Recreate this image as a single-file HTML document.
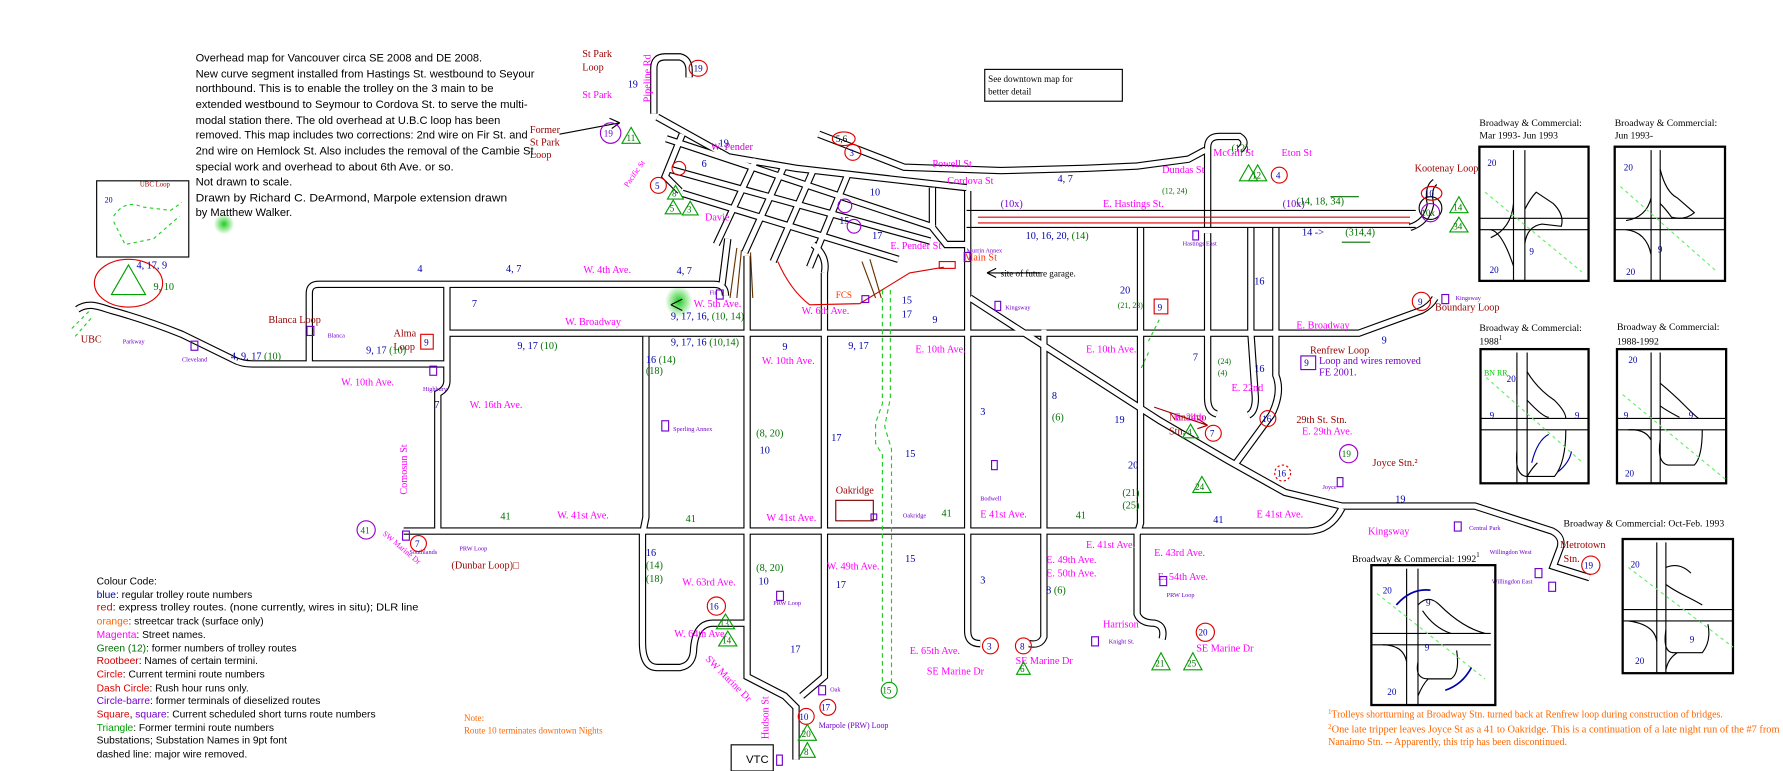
<!DOCTYPE html>
<html><head><meta charset="utf-8"><style>
html,body{margin:0;padding:0;background:#fff;}
svg{display:block}
.b{fill:#0000aa}.g{fill:#007000}.m{fill:#ff00ff}.r{fill:#990000}.p{fill:#7000cc}.o{fill:#ff6600}.k{fill:#000}
.rc{fill:none;stroke:#e00000;stroke-width:1}
.tr{fill:none;stroke:#00a000;stroke-width:1}
.sq{fill:none;stroke:#7000cc;stroke-width:1}
</style></head><body>
<svg width="1783" height="771" viewBox="0 0 1568 678" xmlns="http://www.w3.org/2000/svg" font-family="Liberation Serif, serif" font-size="9">
<defs>
<radialGradient id="gb"><stop offset="0" stop-color="#22cc22"/><stop offset="1" stop-color="#22cc22" stop-opacity="0"/></radialGradient>
<g id="roads" fill="none">
<path d="M68,272 C78,265 88,270 98,273 C120,279 140,286 160,294 L205,316 Q212,320 222,320 L393,320"/>
<path d="M272,320 L272,258 Q272,250 280,250 L628,250 Q638,250 638,260"/>
<path d="M393,250 L393,335 Q393,342 385,346 L385,466"/>
<path d="M393,293 L1195,293 L1250,273 Q1258,269 1262,262"/>
<path d="M355,467 L1150,467 Q1170,467 1180,447"/>
<path d="M853,262 L1020,370 L1080,405 L1130,433 L1180,445 L1297,445 L1365,467 Q1375,472 1372,482 L1366,498 L1398,508"/>
<path d="M568,296 L568,455 L565,470 L565,565 Q565,587 578,587 L598,587 Q610,585 610,570 Q612,548 627,548 L655,548"/>
<path d="M657,225 L657,595 L690,612 L700,622 L700,668"/>
<path d="M725,240 L725,595 L705,612"/>
<path d="M851,168 L851,555 Q851,566 862,566"/>
<path d="M918,290 L918,560 Q915,568 905,566"/>
<path d="M1003,200 L1003,460 L1000,470 L1000,540 Q1003,548 1015,548 Q1025,550 1022,562"/>
<path d="M1062,200 L1062,130 Q1062,120 1072,120 L1090,120 Q1098,125 1090,132"/>
<path d="M1062,205 L1062,350 Q1062,362 1070,364"/>
<path d="M1100,200 L1100,292 L1104,350 Q1104,362 1098,365"/>
<path d="M1122,200 L1122,330 Q1128,345 1118,365 L1085,410"/>
<path d="M720,118 L795,147 L880,150 L955,148 L1000,146 L1045,140 L1060,132"/>
<path d="M575,100 L575,60 Q575,50 585,50 L598,50 Q606,52 606,62 L606,68"/>
<path d="M578,103 L641,138 L700,148 L814,161 L850,165"/>
<path d="M586,122 L822,200"/>
<path d="M586,148 L818,212"/>
<path d="M600,170 L790,228"/>
<path d="M600,118 L585,155 L598,168"/>
<path d="M665,140 L630,215"/>
<path d="M690,145 L655,222"/>
<path d="M715,150 L680,230"/>
<path d="M745,155 L712,235"/>
<path d="M640,210 L635,250"/>
<path d="M725,240 Q728,225 715,215"/>
<path d="M820,165 L820,200 L832,215 L851,215"/>
<path d="M1240,200 Q1255,195 1258,180 Q1255,165 1262,160"/>
</g>
</defs>
<rect width="1568" height="678" fill="#fff"/>
<ellipse cx="597" cy="265" rx="12" ry="14" fill="url(#gb)"/>
<ellipse cx="197" cy="197" rx="9" ry="9" fill="url(#gb)"/>
<use href="#roads" stroke="#000" stroke-width="6.5"/>
<use href="#roads" stroke="#fff" stroke-width="4.5"/>
<g stroke-width="1" fill="none">
<path d="M850,185 L1245,185" stroke="#000"/>
<path d="M850,200 L1245,200" stroke="#000"/>
<path d="M860,191 L1240,191 M860,196 L1240,196" stroke="#e00000"/>
<circle cx="1258" cy="183" r="10" stroke="#000"/>
<path d="M684,230 Q695,255 712,268 L756,267 L800,240 L830,235" stroke="#e00000"/>
<rect x="826" y="230" width="14" height="6" stroke="#e00000"/>
<path d="M776,255 L776,355 L770,372 L770,390 L776,400 L776,600" stroke="#22cc22" stroke-dasharray="4,3"/>
<path d="M783,255 L783,350 L778,375 L784,395 L784,600" stroke="#22cc22" stroke-dasharray="4,3"/>
<path d="M78,274 L62,290 M80,280 L66,296" stroke="#22cc22" stroke-dasharray="3,3"/>
<path d="M1010,300 L1020,280 M1010,310 L1003,325" stroke="#22cc22" stroke-dasharray="3,3"/>
<path d="M648,218 L642,262 M652,220 L648,262 M660,222 L662,262 M758,230 L770,262 M765,228 L775,262" stroke="#663300"/>
<path d="M492,118 L545,108" stroke="#000"/><path d="M545,108 L536,104 M545,108 L538,113" stroke="#000"/>
<path d="M915,240 L868,240 M868,240 L876,236 M868,240 L876,244" stroke="#000"/>
<path d="M1015,358 L1062,374 M1062,374 L1053,368 M1062,374 L1053,377" stroke="#990000"/>
<path d="M590,268 L600,263 M590,268 L600,273" stroke="#000"/>
<rect x="866" y="61" width="121" height="28" stroke="#000"/>
<rect x="85" y="159" width="81" height="67" stroke="#000"/>
<path d="M100,190 Q110,175 125,182 L150,185 L160,178 M100,195 L110,215 L135,210 L158,190" stroke="#22cc22" stroke-dasharray="3,3"/>
<ellipse cx="113" cy="249" rx="30" ry="21" stroke="#e00000"/>
<polygon points="113,233 98,259 128,259" stroke="#00a000"/>
<rect x="643" y="655" width="37" height="23" stroke="#000"/>
<rect x="735" y="440" width="33" height="18" stroke="#800000"/>
</g>
<g font-family="Liberation Sans, sans-serif" font-size="9.5">
<text x="172" y="54" textLength="252" lengthAdjust="spacingAndGlyphs">Overhead map for Vancouver circa  SE 2008 and DE 2008.</text>
<text x="172" y="68" textLength="298" lengthAdjust="spacingAndGlyphs">New curve segment  installed from  Hastings St. westbound to Seyour</text>
<text x="172" y="81" textLength="262" lengthAdjust="spacingAndGlyphs">northbound. This is to enable the trolley on the 3 main to be</text>
<text x="172" y="95" textLength="292" lengthAdjust="spacingAndGlyphs">extended westbound to Seymour to Cordova St. to serve the multi-</text>
<text x="172" y="109" textLength="268" lengthAdjust="spacingAndGlyphs">modal station there. The old overhead at U.B.C loop has been</text>
<text x="172" y="122" textLength="292" lengthAdjust="spacingAndGlyphs">removed. This map includes two corrections: 2nd wire on Fir St. and</text>
<text x="172" y="136" textLength="300" lengthAdjust="spacingAndGlyphs">2nd wire on Hemlock St. Also includes the removal of the Cambie St.</text>
<text x="172" y="150" textLength="227" lengthAdjust="spacingAndGlyphs">special work and overhead to about 6th Ave. or so.</text>
<text x="172" y="163" textLength="85" lengthAdjust="spacingAndGlyphs">Not drawn to scale.</text>
<text x="172" y="177" textLength="274" lengthAdjust="spacingAndGlyphs">Drawn by Richard C. DeArmond, Marpole extension drawn</text>
<text x="172" y="190" textLength="85" lengthAdjust="spacingAndGlyphs">by Matthew Walker.</text>
</g>
<text x="869" y="72" font-size="8">See downtown map for</text>
<text x="869" y="83" font-size="8">better detail</text>
<g font-family="Liberation Sans, sans-serif" font-size="9">
<text x="85" y="514">Colour Code:</text>
<text x="85" y="526"><tspan class="b">blue</tspan>: regular trolley route numbers</text>
<text x="85" y="537" textLength="283" lengthAdjust="spacingAndGlyphs"><tspan fill="#e00000">red</tspan>: express trolley routes. (none currently, wires in situ); DLR line</text>
<text x="85" y="549"><tspan class="o">orange</tspan>: streetcar track (surface only)</text>
<text x="85" y="561"><tspan class="m">Magenta</tspan>: Street names.</text>
<text x="85" y="573"><tspan class="g">Green (12)</tspan>: former numbers of trolley routes</text>
<text x="85" y="584"><tspan fill="#cc0000">Rootbeer</tspan>: Names of certain termini.</text>
<text x="85" y="596"><tspan fill="#e00000">Circle</tspan>: Current termini route numbers</text>
<text x="85" y="608"><tspan fill="#e00000">Dash Circle</tspan>: Rush hour runs only.</text>
<text x="85" y="619"><tspan class="p">Circle-barre</tspan>: former terminals of dieselized routes</text>
<text x="85" y="631"><tspan fill="#e00000">Square</tspan>, <tspan class="p">square</tspan>: Current scheduled short turns route numbers</text>
<text x="85" y="643"><tspan fill="#00a000">Triangle</tspan>: Former termini route numbers</text>
<text x="85" y="654">Substations; Substation Names in  9pt font</text>
<text x="85" y="666">dashed line: major wire removed.</text>
</g>
<text x="408" y="634" class="o" font-size="8">Note:</text>
<text x="408" y="645" class="o" font-size="8" textLength="122" lengthAdjust="spacingAndGlyphs">Route 10 terminates downtown Nights</text>
<text x="1168" y="631" class="o" textLength="347" lengthAdjust="spacingAndGlyphs"><tspan font-size="6" dy="-3">1</tspan><tspan dy="3">Trolleys shortturning at Broadway Stn. turned back at Renfrew loop during construction of bridges.</tspan></text>
<text x="1168" y="644" class="o" textLength="397" lengthAdjust="spacingAndGlyphs"><tspan font-size="6" dy="-3">2</tspan><tspan dy="3">One late tripper leaves Joyce St as a 41 to Oakridge. This is a continuation of a late night run of the #7 from</tspan></text>
<text x="1168" y="655" class="o" textLength="210" lengthAdjust="spacingAndGlyphs">Nanaimo Stn. -- Apparently, this trip has been discontinued.</text>
<g class="r">
<text x="512" y="50">St Park</text><text x="512" y="62">Loop</text>
<text x="466" y="117">Former</text><text x="466" y="128">St Park</text><text x="466" y="139">Loop</text>
<text x="236" y="284">Blanca Loop</text><text x="346" y="296">Alma</text><text x="346" y="308">Loop</text>
<text x="71" y="301">UBC</text><text x="735" y="434">Oakridge</text>
<text x="1028" y="370">Nanaimo</text><text x="1028" y="382">Stn.</text>
<text x="1140" y="372">29th St. Stn.</text><text x="1207" y="410">Joyce Stn.²</text>
<text x="1372" y="482">Metrotown</text><text x="1375" y="494">Stn.</text>
<text x="1244" y="151">Kootenay Loop</text><text x="1262" y="273">Boundary Loop</text>
<text x="1152" y="311">Renfrew Loop</text><text x="397" y="500">(Dunbar Loop)□</text>
</g>
<text x="848" y="229" fill="#ff3300">Main St</text>
<text x="735" y="262" fill="#ff3300" font-size="8">FCS</text>
<text x="123" y="164" fill="#990000" font-size="6">UBC Loop</text>
<text x="880" y="243" font-size="8">site of future garage.</text>
<text x="656" y="671" font-family="Liberation Sans, sans-serif" font-size="10">VTC</text>
<text x="1160" y="320" class="p">Loop and wires removed</text>
<text x="1160" y="330" class="p">FE 2001.</text>
<g class="m">
<text x="512" y="86">St Park</text><text x="625" y="132" fill="#cc00cc">W. Pender</text><text x="620" y="194">Davie</text>
<text x="820" y="147">Powell St</text><text x="833" y="162">Cordova St</text><text x="1022" y="152">Dundas St</text>
<text x="1067" y="137">McGill St</text><text x="1127" y="137">Eton St</text><text x="970" y="182">E. Hastings St.</text>
<text x="783" y="219">E. Pender St</text><text x="513" y="240">W. 4th Ave.</text><text x="497" y="286">W. Broadway</text>
<text x="610" y="270">W. 5th Ave.</text><text x="705" y="276">W. 6th Ave.</text><text x="300" y="339">W. 10th Ave.</text>
<text x="413" y="359">W. 16th Ave.</text><text x="670" y="320">W. 10th Ave.</text><text x="805" y="310">E. 10th Ave.</text>
<text x="955" y="310">E. 10th Ave.</text><text x="1140" y="289">E. Broadway</text><text x="1083" y="344">E. 22nd</text>
<text x="1033" y="370">E. 24th</text><text x="1145" y="382">E. 29th Ave.</text>
<text x="490" y="456">W. 41st Ave.</text><text x="674" y="458">W 41st Ave.</text><text x="862" y="455">E 41st Ave.</text>
<text x="1105" y="455">E 41st Ave.</text><text x="955" y="482">E. 41st Ave.</text><text x="1015" y="489">E. 43rd Ave.</text>
<text x="920" y="495">E. 49th Ave.</text><text x="920" y="507">E. 50th Ave.</text><text x="1018" y="510">E. 54th Ave.</text>
<text x="727" y="501">W. 49th Ave.</text><text x="600" y="515">W. 63rd Ave.</text><text x="593" y="560">W. 64th Ave.</text>
<text x="800" y="575">E. 65th Ave.</text><text x="815" y="593">SE Marine Dr</text><text x="893" y="584">SE Marine Dr</text>
<text x="1052" y="573">SE Marine Dr</text><text x="970" y="552">Harrison</text><text x="1203" y="470">Kingsway</text>
<text transform="translate(358,435) rotate(-90)">Comosun St</text>
<text transform="translate(572,90) rotate(-90)">Pipeline Rd</text>
<text transform="translate(676,650) rotate(-90)">Hudson St</text>
<text transform="translate(620,580) rotate(45)">SW Marine Dr</text>
<text transform="translate(336,470) rotate(40)" font-size="7">SW Marine Dr</text>
<text transform="translate(552,165) rotate(-55)" font-size="7">Pacific St</text>
</g>
<g class="b">
<text x="552" y="77">19</text><text x="632" y="129">19</text><text x="617" y="147">6</text><text x="765" y="172">10</text>
<text x="738" y="197">15</text><text x="767" y="210">17</text><text x="930" y="160">4, 7</text><text x="902" y="210">10, 16, 20, <tspan class="g">(14)</tspan></text>
<text x="985" y="258">20</text><text x="367" y="239">4</text><text x="445" y="239">4, 7</text><text x="595" y="241">4, 7</text>
<text x="415" y="270">7</text><text x="322" y="311">9, 17 <tspan class="g">(10)</tspan></text><text x="455" y="307">9, 17 <tspan class="g">(10)</tspan></text>
<text x="590" y="304">9, 17, 16 <tspan class="g">(10,14)</tspan></text><text x="590" y="281">9, 17, 16, <tspan class="g">(10, 14)</tspan></text>
<text x="203" y="316">4, 9, 17 <tspan class="g">(10)</tspan></text>
<text x="688" y="308">9</text><text x="746" y="307">9, 17</text><text x="820" y="284">9</text><text x="793" y="267">15</text><text x="793" y="279">17</text>
<text x="382" y="359">7</text><text x="568" y="319">16 <tspan class="g">(14)</tspan></text><text x="668" y="399">10</text>
<text x="731" y="388">17</text><text x="796" y="402">15</text><text x="862" y="365">3</text><text x="925" y="351">8</text>
<text x="980" y="372">19</text><text x="992" y="412">20</text><text x="1049" y="317">7</text><text x="1103" y="327">16</text>
<text x="1103" y="250">16</text><text x="1215" y="302">9</text><text x="1067" y="460">41</text><text x="1227" y="442">19</text>
<text x="568" y="489">16</text><text x="667" y="514">10</text><text x="735" y="517">17</text><text x="695" y="574">17</text>
<text x="796" y="494">15</text><text x="862" y="513">3</text><text x="920" y="522">8 <tspan class="g">(6)</tspan></text>
<text x="1145" y="207">14 -&gt;</text><text x="120" y="236">4, 17, 9</text><text x="92" y="178" font-size="7">20</text>
</g>
<g class="g">
<text x="568" y="329">(18)</text><text x="665" y="384">(8, 20)</text><text x="925" y="370">(6)</text>
<text x="983" y="271" font-size="7">(21, 23)</text><text x="987" y="436">(21)</text><text x="987" y="447">(25)</text>
<text x="1071" y="320" font-size="7">(24)</text><text x="1071" y="330" font-size="7">(4)</text>
<text x="440" y="457">41</text><text x="603" y="459">41</text><text x="828" y="454">41</text><text x="946" y="456">41</text>
<text x="568" y="500">(14)</text><text x="568" y="512">(18)</text><text x="665" y="502">(8, 20)</text>
<text x="1140" y="180">(14, 18, 34)</text><text x="1183" y="207">(314,4)</text><text x="1022" y="170" font-size="7">(12, 24)</text>
<text x="1083" y="133">(12)</text><text x="135" y="255">9, 10</text>
</g>
<g class="p"><text x="880" y="182">(10x)</text><text x="1128" y="182">(10x)</text></g>
<path d="M1170,173 L1195,173 M1180,213 L1205,213" stroke="#007000" stroke-width="1"/>
<g font-size="8">
<ellipse class="rc" cx="614" cy="60" rx="8" ry="7"/><text x="610" y="63" class="b">19</text>
<ellipse class="rc" cx="742" cy="122" rx="10" ry="6"/><text x="735" y="125" class="k">5,6</text>
<circle class="rc" cx="750" cy="134" r="7"/><text x="747" y="137" class="b">3</text>
<circle class="rc" cx="579" cy="163" r="7"/><text x="576" y="166" class="b">5</text>
<circle class="rc" cx="597" cy="148" r="6"/>
<ellipse class="rc" cx="1259" cy="170" rx="9" ry="6"/><text x="1253" y="173" class="b">10</text>
<circle class="rc" cx="1250" cy="265" r="8"/><text x="1247" y="268" class="b">9</text>
<circle class="rc" cx="1067" cy="381" r="7"/><text x="1064" y="384" class="b">7</text>
<circle class="rc" cx="1115" cy="368" r="7"/><text x="1110" y="371" class="b">16</text>
<circle class="rc" cx="1128" cy="416" r="7" stroke-dasharray="2,2"/><text x="1123" y="419" class="b">16</text>
<circle class="rc" cx="871" cy="568" r="7"/><text x="868" y="571" class="b">3</text>
<circle class="rc" cx="900" cy="568" r="7"/><text x="897" y="571" class="b">8</text>
<circle class="rc" cx="1060" cy="556" r="8"/><text x="1054" y="559" class="b">20</text>
<circle class="rc" cx="630" cy="533" r="8"/><text x="624" y="536" class="b">16</text>
<circle class="rc" cx="709" cy="630" r="7"/><text x="703" y="633" class="b">10</text>
<circle class="rc" cx="728" cy="622" r="7"/><text x="722" y="625" class="b">17</text>
<circle class="rc" cx="368" cy="478" r="7"/><text x="365" y="481" class="b">7</text>
<circle class="rc" cx="1125" cy="154" r="7"/><text x="1122" y="157" class="b">4</text>
<circle class="rc" cx="1399" cy="497" r="8"/><text x="1393" y="500" class="b">19</text>
<circle cx="782" cy="607" r="7" fill="none" stroke="#00a000"/><text x="776" y="610" class="g">15</text>
<circle cx="537" cy="117" r="9" fill="none" stroke="#9900cc"/><text x="531" y="120" class="p">19</text>
<circle cx="322" cy="466" r="8" fill="none" stroke="#9900cc"/><text x="317" y="469" class="g">41</text>
<circle cx="1186" cy="399" r="8" fill="none" stroke="#9900cc"/><text x="1180" y="402" class="g">19</text>
<circle cx="1258" cy="187" r="8" fill="none" stroke="#9900cc"/><text x="1250" y="190" class="g">10x</text>
<circle cx="751" cy="199" r="6" fill="none" stroke="#9900cc"/><circle cx="743" cy="181" r="6" fill="none" stroke="#9900cc"/>
</g>
<g font-size="8">
<polygon class="tr" points="555,112 547,126 563,126"/><text x="551" y="124" class="g">11</text>
<polygon class="tr" points="594,163 587,175 601,175"/><text x="591" y="173" class="g">8</text>
<polygon class="tr" points="592,176 585,188 599,188"/><text x="589" y="186" class="g">5</text>
<polygon class="tr" points="607,177 600,189 614,189"/><text x="604" y="187" class="g">3</text>
<polygon class="tr" points="1283,173 1275,187 1291,187"/><text x="1278" y="185" class="g">14</text>
<polygon class="tr" points="1283,191 1275,204 1291,204"/><text x="1278" y="202" class="g">34</text>
<polygon class="tr" points="1106,145 1098,159 1114,159"/><text x="1101" y="157" class="g">12</text>
<polygon class="tr" points="1098,145 1090,159 1106,159"/>
<polygon class="tr" points="1047,373 1040,385 1054,385"/><text x="1044" y="383" class="g">4</text>
<polygon class="tr" points="1057,419 1049,433 1065,433"/><text x="1051" y="431" class="g">24</text>
<polygon class="tr" points="1021,574 1013,589 1029,589"/><text x="1016" y="586" class="g">21</text>
<polygon class="tr" points="1049,574 1041,589 1057,589"/><text x="1044" y="586" class="g">25</text>
<polygon class="tr" points="638,540 630,553 646,553"/><text x="633" y="551" class="g">13</text>
<polygon class="tr" points="640,555 632,568 648,568"/><text x="635" y="566" class="g">14</text>
<polygon class="tr" points="710,637 702,651 718,651"/><text x="705" y="648" class="g">20</text>
<polygon class="tr" points="710,653 703,666 717,666"/><text x="707" y="664" class="g">8</text>
<polygon class="tr" points="900,582 894,593 906,593"/><text x="897" y="591" class="g">6</text>
</g>
<g font-size="8">
<rect x="370" y="294" width="11" height="13" fill="none" stroke="#e00000"/><text x="373" y="304" class="b">9</text>
<rect x="1015" y="263" width="12" height="13" fill="none" stroke="#e00000"/><text x="1018" y="273" class="b">9</text>
<rect x="1144" y="313" width="13" height="12" fill="none" stroke="#7000cc"/><text x="1147" y="322" class="b">9</text>
</g>
<g class="sq">
<rect x="168" y="300" width="6" height="8"/><rect x="270" y="287" width="6" height="8"/><rect x="378" y="322" width="6" height="8"/>
<rect x="630" y="255" width="6" height="8"/><rect x="758" y="260" width="6" height="6"/><rect x="848" y="222" width="5" height="8"/>
<rect x="875" y="265" width="5" height="8"/><rect x="1049" y="203" width="5" height="8"/><rect x="1268" y="259" width="6" height="8"/>
<rect x="582" y="370" width="6" height="9"/><rect x="872" y="405" width="5" height="8"/><rect x="766" y="452" width="5" height="5"/>
<rect x="354" y="467" width="6" height="8"/><rect x="1020" y="507" width="6" height="8"/><rect x="960" y="560" width="6" height="8"/>
<rect x="1176" y="420" width="5" height="8"/><rect x="1279" y="459" width="6" height="8"/><rect x="1350" y="500" width="6" height="8"/>
<rect x="1362" y="512" width="6" height="8"/><rect x="720" y="603" width="6" height="8"/><rect x="683" y="664" width="5" height="9"/>
<rect x="683" y="520" width="6" height="8"/>
</g>
<g class="p" font-size="5.5">
<text x="160" y="318">Cleveland</text><text x="108" y="302">Parkway</text><text x="288" y="297">Blanca</text><text x="372" y="344">Highbury</text>
<text x="624" y="259">Fir</text><text x="884" y="272">Kingsway</text><text x="1040" y="216">Hastings East</text><text x="1280" y="264">Kingsway</text>
<text x="592" y="379">Sperling Annex</text><text x="862" y="440">Bodwell</text><text x="794" y="455">Oakridge</text>
<text x="360" y="487">Southlands</text><text x="404" y="484">PRW Loop</text><text x="680" y="532">PRW Loop</text><text x="1026" y="525">PRW Loop</text>
<text x="975" y="566">Knight St.</text><text x="1163" y="430">Joyce</text><text x="1292" y="466">Central Park</text>
<text x="1310" y="487">Willingdon West</text><text x="1312" y="513">Willingdon East</text><text x="730" y="608">Oak</text>
<text x="720" y="640" font-size="7">Marpole (PRW) Loop</text><text x="850" y="222">Murrin Annex</text>
</g>
<g fill="none" stroke="#000">
<g transform="translate(1301,129)"><rect width="96" height="118" stroke-width="2"/><path d="M30,3 V118 M40,3 V118 M0,63 H96 M0,73 H96" stroke-width="1"/><path d="M10,80 Q28,72 30,50 M40,85 Q42,70 55,68 L72,70 Q75,60 65,50 L50,40 Q45,45 40,55 M30,105 Q20,75 10,73" stroke-width="1"/><path d="M5,40 L90,110" stroke="#66ee66" stroke-dasharray="3,3" stroke-width="1"/></g>
<g transform="translate(1420,129)"><rect width="97" height="118" stroke-width="2"/><path d="M32,3 V118 M40,3 V118 M0,63 H97 M0,73 H97" stroke-width="1"/><path d="M40,20 Q45,40 55,45 L70,58 Q62,65 50,62 Q45,55 40,50 M32,95 Q28,75 10,73 M10,65 Q28,62 32,45" stroke-width="1"/><path d="M5,35 L90,110" stroke="#66ee66" stroke-dasharray="3,3" stroke-width="1"/></g>
<g transform="translate(1302,307)"><rect width="95" height="118" stroke-width="2"/><path d="M32,3 V118 M41,3 V118 M0,61 H95 M0,71 H95" stroke-width="1"/><path d="M41,20 Q50,35 65,45 Q75,55 75,61 M32,28 V40 M41,45 Q55,60 60,60 M32,90 Q30,110 40,112 L65,112 Q75,100 75,71 M41,112 Q45,105 50,100" stroke-width="1"/><path d="M5,25 L90,100" stroke="#66ee66" stroke-dasharray="3,3" stroke-width="1"/><path d="M45,100 Q50,80 60,75 M68,108 Q78,100 80,90" stroke="#0000aa" stroke-width="1"/></g>
<g transform="translate(1422,307)"><rect width="96" height="118" stroke-width="2"/><path d="M30,3 V118 M38,3 V118 M0,61 H96 M0,71 H96" stroke-width="1"/><path d="M38,30 Q50,40 60,50 Q70,60 72,61 M38,50 Q45,55 55,60 M30,80 Q25,70 10,71 M38,80 Q35,100 45,102 L68,102 Q75,95 75,71" stroke-width="1"/><path d="M5,40 L96,115" stroke="#66ee66" stroke-dasharray="3,3" stroke-width="1"/></g>
<g transform="translate(1206,497)"><rect width="109" height="123" stroke-width="2"/><path d="M31,3 V123 M41,3 V123 M0,60 H105 M0,70 H105" stroke-width="1"/><path d="M41,35 Q50,25 60,35 Q80,55 100,60 M45,40 Q55,55 70,60 M31,85 Q28,70 10,70 M41,85 Q38,100 50,100 L70,100 Q78,95 75,75 M41,115 Q45,105 50,100" stroke-width="1"/><path d="M5,25 L100,100" stroke="#66ee66" stroke-dasharray="3,3" stroke-width="1"/><path d="M22,35 Q35,20 52,22 M65,110 Q80,105 88,90" stroke="#0000aa" stroke-width="1.5"/></g>
<g transform="translate(1427,474)"><rect width="97" height="118" stroke-width="2"/><path d="M30,3 V118 M38,3 V118 M0,62 H97 M0,72 H97" stroke-width="1"/><path d="M38,25 Q50,20 60,30 M38,40 Q45,45 55,50 Q65,55 70,58 M30,90 Q28,75 5,72 M38,80 Q35,100 45,100 L70,100 Q78,90 75,75 M38,115 Q40,105 48,100" stroke-width="1"/><path d="M5,25 L97,95" stroke="#66ee66" stroke-dasharray="3,3" stroke-width="1"/></g>
</g>
<g font-size="8.5">
<text x="1301" y="111">Broadway &amp; Commercial:</text><text x="1301" y="122">Mar 1993- Jun 1993</text>
<text x="1420" y="111">Broadway &amp; Commercial:</text><text x="1420" y="122">Jun 1993-</text>
<text x="1301" y="291">Broadway &amp; Commercial:</text><text x="1301" y="303">1988<tspan font-size="6" dy="-4">1</tspan></text>
<text x="1422" y="290">Broadway &amp; Commercial:</text><text x="1422" y="303">1988-1992</text>
<text x="1189" y="494">Broadway &amp; Commercial: 1992<tspan font-size="6" dy="-4">1</tspan></text>
<text x="1375" y="463">Broadway &amp; Commercial: Oct-Feb. 1993</text>
</g>
<g class="b" font-size="8">
<text x="1308" y="146">20</text><text x="1310" y="240">20</text><text x="1345" y="224">9</text>
<text x="1428" y="150">20</text><text x="1430" y="242">20</text><text x="1458" y="222">9</text>
<text x="1325" y="336">20</text><text x="1310" y="368">9</text><text x="1385" y="368">9</text>
<text x="1432" y="319">20</text><text x="1428" y="368">9</text><text x="1485" y="368">9</text><text x="1429" y="419">20</text>
<text x="1216" y="522">20</text><text x="1220" y="611">20</text><text x="1253" y="572">9</text><text x="1254" y="533">9</text>
<text x="1434" y="499">20</text><text x="1438" y="584">20</text><text x="1486" y="565">9</text>
</g>
<text x="1305" y="330" fill="#00cc00" font-size="7">BN RR</text>
</svg>
</body></html>
